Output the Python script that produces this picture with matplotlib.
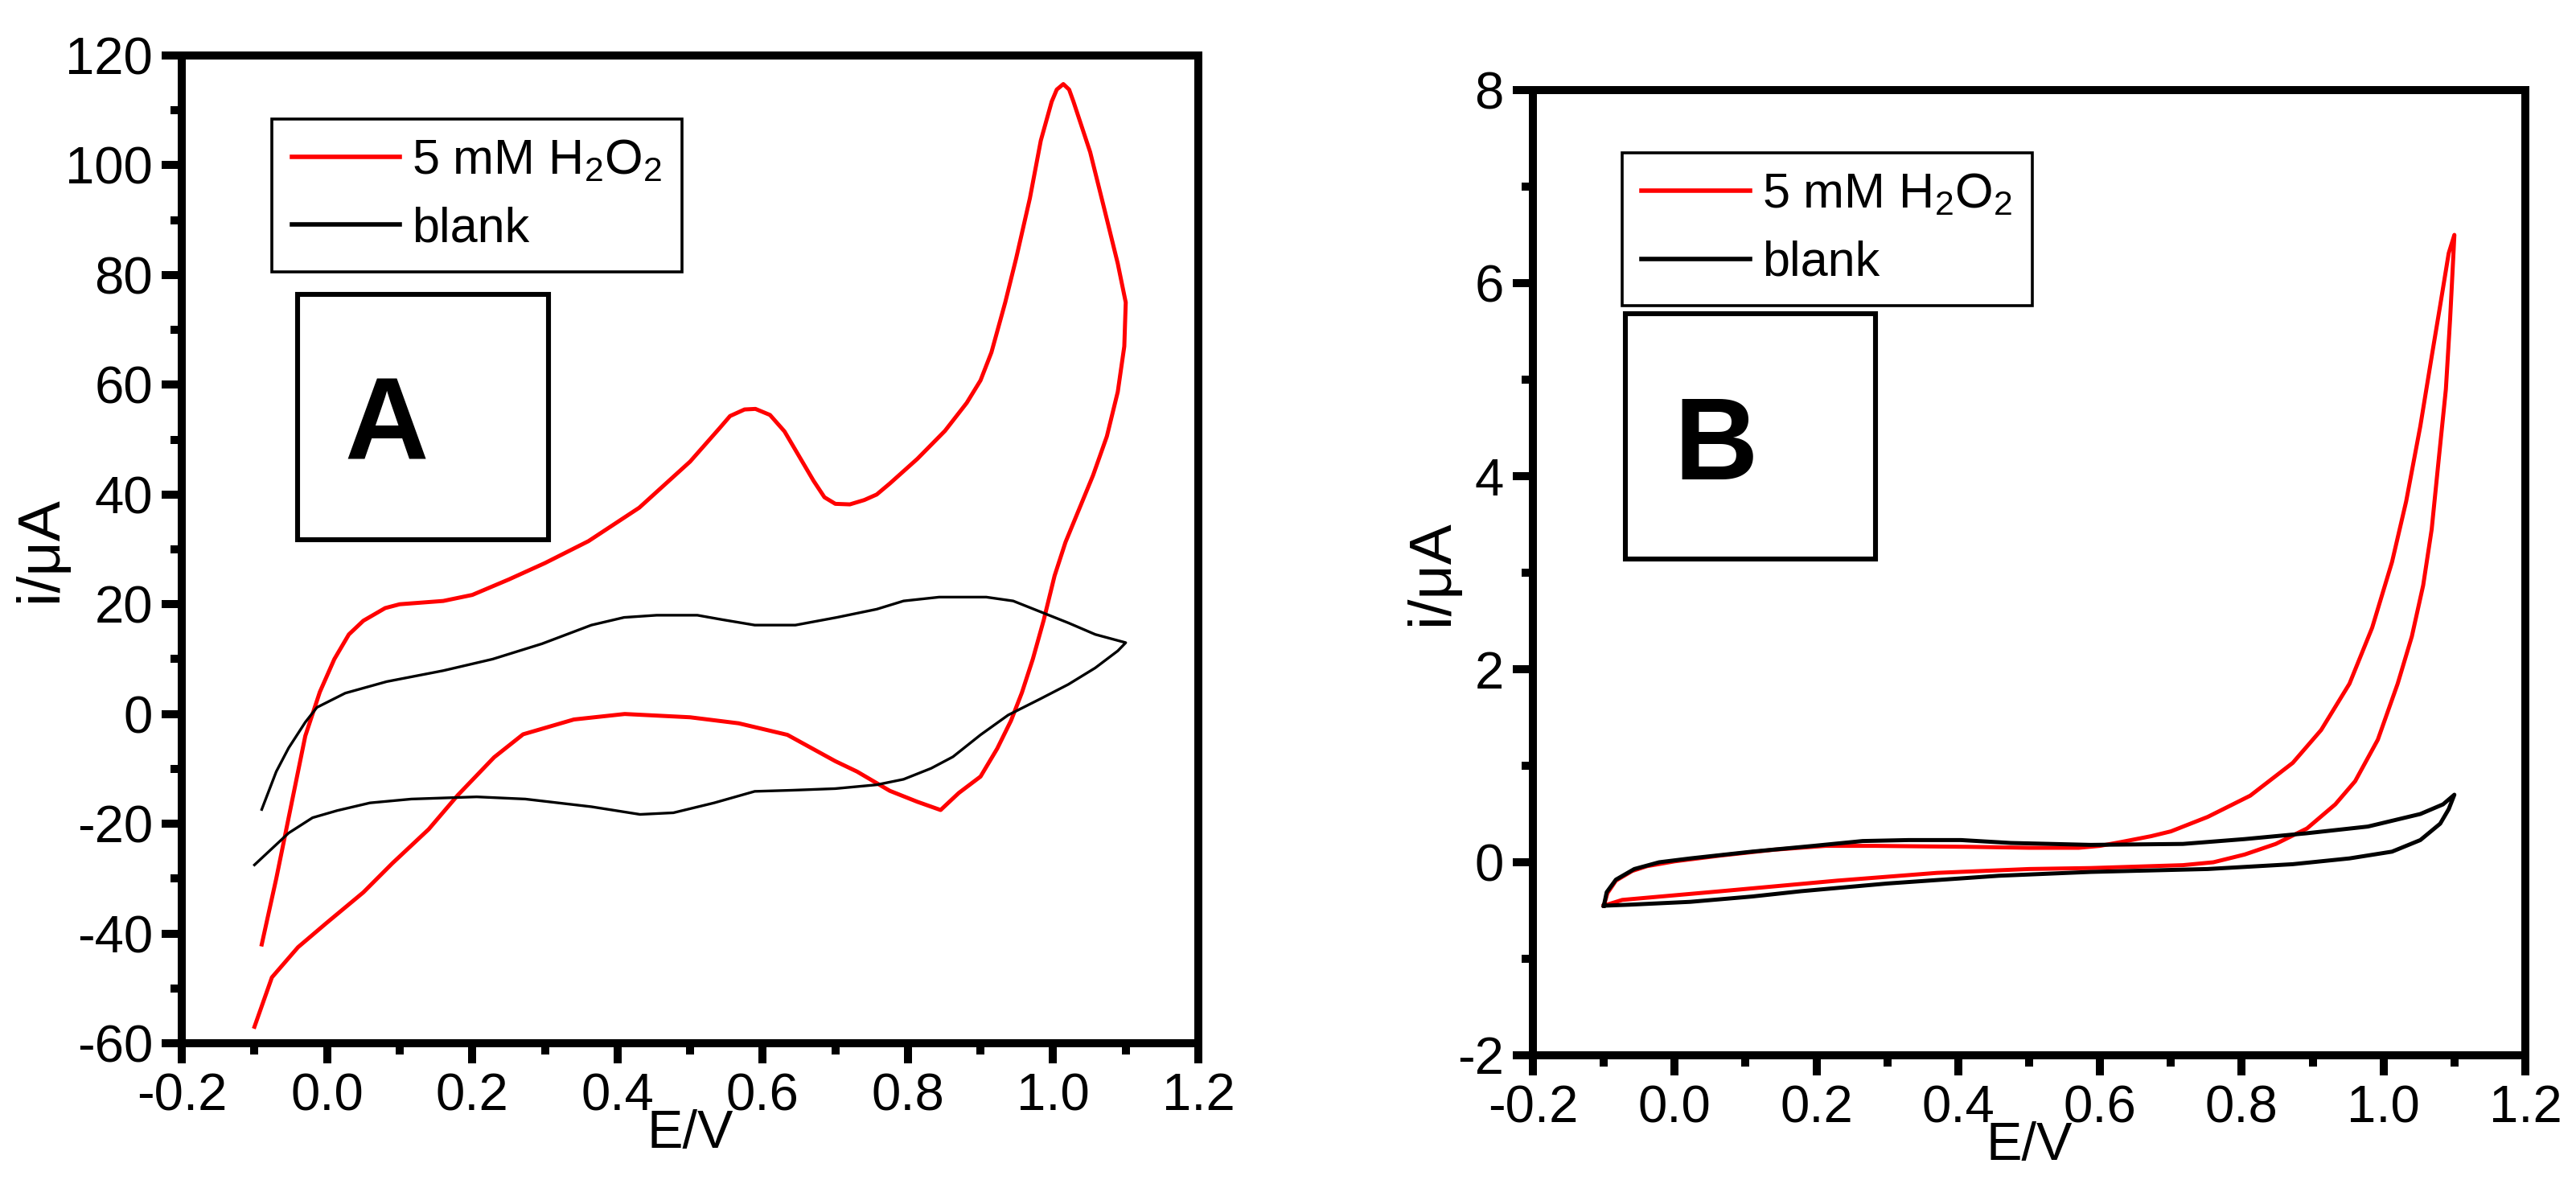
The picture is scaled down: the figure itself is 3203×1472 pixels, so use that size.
import matplotlib
matplotlib.use('Agg')
import matplotlib.pyplot as plt
from matplotlib.patches import Rectangle
from matplotlib.ticker import MultipleLocator, FormatStrFormatter

plt.rcParams['font.family'] = ['Liberation Sans', 'DejaVu Sans']
plt.rcParams['mathtext.fontset'] = 'custom'
plt.rcParams['mathtext.rm'] = 'Liberation Sans'
plt.rcParams['mathtext.it'] = 'Liberation Sans'
plt.rcParams['axes.unicode_minus'] = False

# panel A, 5 mM H2O2 (one full cycle)
a_red_E = [-0.09, -0.07, -0.05, -0.03, -0.01, 0.01, 0.03, 0.05, 0.08, 0.10, 0.13, 0.16,
           0.20, 0.25, 0.30, 0.36, 0.43, 0.50, 0.54, 0.555, 0.575, 0.59, 0.61, 0.63, 0.65,
           0.67, 0.685, 0.70, 0.72, 0.74,
           0.757, 0.775, 0.813, 0.851, 0.881, 0.90, 0.915, 0.934, 0.949, 0.968, 0.983,
           0.998, 1.005, 1.014, 1.022, 1.028, 1.051, 1.07, 1.089, 1.10,
           1.098, 1.089, 1.074, 1.055, 1.036, 1.017, 1.002, 0.987, 0.972, 0.957, 0.942,
           0.923, 0.90, 0.87, 0.845, 0.813, 0.775, 0.73, 0.70, 0.634, 0.567, 0.50, 0.41,
           0.34, 0.27, 0.23, 0.18, 0.14, 0.09, 0.05, 0.0, -0.04, -0.076, -0.1]
a_red_i = [-42, -30, -17, -4, 4, 10, 14.5, 17, 19.3, 20, 20.3, 20.6,
           21.7, 24.5, 27.5, 31.5, 37.6, 46, 52, 54.3, 55.5, 55.6, 54.5, 51.5, 47,
           42.5, 39.5, 38.3, 38.2, 39,
           40, 42, 46.5, 51.6, 56.7, 60.8, 65.9, 75, 83, 94, 104.5,
           111.6, 113.8, 114.8, 113.8, 111.6, 102.4, 92.3, 82.1, 75,
           67, 58.7, 50.6, 43.5, 37.4, 31.3, 25.2, 17.1, 10, 3.9, -1.2,
           -6.3, -11.4, -14.4, -17.5, -16, -14, -10.5, -8.6, -3.8, -1.7, -0.6, 0,
           -1, -3.7, -7.9, -14.8, -21, -27.2, -32.5, -38, -42.5, -48, -57]

# panel A, blank
a_blk_E = [-0.09, -0.07, -0.053, -0.03, -0.014, 0.025, 0.082, 0.16, 0.228, 0.296, 0.364,
           0.409, 0.454, 0.51, 0.544, 0.589, 0.645, 0.702, 0.757, 0.794, 0.843, 0.908,
           0.945, 0.983, 1.021, 1.058, 1.10,
           1.089, 1.058, 1.021, 0.983, 0.938, 0.90, 0.862, 0.832, 0.794, 0.757, 0.70,
           0.64, 0.589, 0.533, 0.477, 0.431, 0.364, 0.273, 0.206, 0.116, 0.059, 0.014,
           -0.02, -0.053, -0.1]
a_blk_i = [-17.4, -10.5, -6.2, -1.5, 1.2, 3.8, 5.9, 7.9, 10, 12.8, 16.2,
           17.6, 18, 18, 17.2, 16.2, 16.2, 17.6, 19.1, 20.6, 21.3, 21.3,
           20.6, 18.6, 16.6, 14.5, 13,
           11.5, 8.4, 5.4, 2.8, -0.2, -3.8, -7.8, -9.9, -11.9, -12.9, -13.6,
           -13.9, -14.1, -16.2, -18, -18.3, -16.9, -15.5, -15.1, -15.5, -16.2, -17.6,
           -18.9, -21.7, -27.5]

# panel B, 5 mM H2O2
b_red_E = [-0.1, -0.095, -0.083, -0.06, -0.039, 0.0, 0.065, 0.14, 0.213, 0.283, 0.413,
           0.50, 0.57, 0.60, 0.63, 0.672, 0.70, 0.752, 0.812, 0.872, 0.912, 0.952, 0.984,
           1.012, 1.032, 1.052, 1.068, 1.08, 1.092, 1.10,
           1.099, 1.094, 1.088, 1.078, 1.068, 1.056, 1.04, 1.02, 0.992, 0.96, 0.932,
           0.892, 0.848, 0.804, 0.76, 0.717, 0.587, 0.50, 0.37, 0.23, 0.065, -0.074, -0.1]
b_red_i = [-0.45, -0.32, -0.19, -0.09, -0.04, 0.01, 0.07, 0.13, 0.17, 0.17, 0.16,
           0.15, 0.15, 0.17, 0.21, 0.27, 0.32, 0.47, 0.69, 1.03, 1.37, 1.85, 2.43,
           3.11, 3.74, 4.52, 5.24, 5.77, 6.31, 6.5,
           6.35, 5.63, 4.9, 4.18, 3.45, 2.87, 2.34, 1.85, 1.27, 0.84, 0.6,
           0.35, 0.19, 0.08, 0.0, -0.03, -0.06, -0.07, -0.11, -0.19, -0.30, -0.39, -0.45]

# panel B, blank
b_blk_E = [-0.1, -0.096, -0.083, -0.057, -0.022, 0.022, 0.109, 0.196, 0.265, 0.33, 0.404,
           0.474, 0.587, 0.717, 0.804, 0.891, 0.978, 1.052, 1.084, 1.10,
           1.092, 1.08, 1.052, 1.012, 0.952, 0.872, 0.752, 0.587, 0.457, 0.3, 0.178,
           0.109, 0.022, -0.065, -0.1]
b_blk_i = [-0.45, -0.31, -0.18, -0.07, 0.0, 0.04, 0.11, 0.17, 0.22, 0.23, 0.23,
           0.2, 0.18, 0.19, 0.24, 0.30, 0.37, 0.5, 0.6, 0.7,
           0.55, 0.4, 0.23, 0.11, 0.04, -0.02, -0.07, -0.1, -0.14, -0.22, -0.30,
           -0.355, -0.41, -0.44, -0.45]

legend_labels = ['5 mM H$_2$O$_2$', 'blank']


def style_axes(ax, ylim, ymajor, yminor, ylabel_x):
    ax.set_xlim(-0.2, 1.2)
    ax.set_ylim(*ylim)
    ax.xaxis.set_major_locator(MultipleLocator(0.2))
    ax.xaxis.set_minor_locator(MultipleLocator(0.1))
    ax.xaxis.set_major_formatter(FormatStrFormatter('%.1f'))
    ax.yaxis.set_major_locator(MultipleLocator(ymajor))
    ax.yaxis.set_minor_locator(MultipleLocator(yminor))
    for s in ax.spines.values():
        s.set_linewidth(3.6)
    ax.tick_params(which='both', direction='out', top=False, right=False, width=3.6)
    ax.tick_params(which='major', length=9)
    ax.tick_params(which='minor', length=5)
    ax.tick_params(axis='both', labelsize=23.5, pad=4)
    ax.set_xlabel('E/V', fontsize=24, labelpad=-5)
    ax.set_ylabel('i/\u03bcA', fontsize=27)
    ax.yaxis.set_label_coords(ylabel_x, 0.5)


def add_box(ax, x0, y0, w, h, letter, tx, ty):
    ax.add_patch(Rectangle((x0, y0), w, h, transform=ax.transAxes, fill=False,
                           edgecolor='black', linewidth=2.2, zorder=5))
    ax.text(tx, ty, letter, transform=ax.transAxes, fontsize=52, fontweight='bold',
            ha='center', va='center', zorder=6)


fig = plt.figure(figsize=(16.015, 7.36), dpi=200)
axA = fig.add_axes([0.0706, 0.1189, 0.3946, 0.8342])
axB = fig.add_axes([0.5951, 0.1087, 0.3852, 0.8152])

axA.plot(a_red_E, a_red_i, color='red', lw=1.8, solid_joinstyle='round', label=legend_labels[0])
axA.plot(a_blk_E, a_blk_i, color='black', lw=1.2, solid_joinstyle='round', label=legend_labels[1])
style_axes(axA, (-60, 120), 20, 10, -0.112)

axB.plot(b_red_E, b_red_i, color='red', lw=1.8, solid_joinstyle='round', label=legend_labels[0])
axB.plot(b_blk_E, b_blk_i, color='black', lw=1.8, solid_joinstyle='round', label=legend_labels[1])
style_axes(axB, (-2, 8), 2, 1, -0.074)

for ax, anchor in ((axA, (0.0886, 0.936)), (axB, (0.0896, 0.935))):
    leg = ax.legend(loc='upper left', bbox_to_anchor=anchor, borderaxespad=0,
                    fontsize=22, frameon=True, fancybox=False, framealpha=1,
                    edgecolor='black', handlelength=2.2, handletextpad=0.25,
                    borderpad=0.4, labelspacing=0.45)
    leg.get_frame().set_linewidth(1.3)
    for line in leg.get_lines():
        line.set_linewidth(2.0)

add_box(axA, 0.114, 0.51, 0.247, 0.248, 'A', 0.201, 0.6225)
add_box(axB, 0.093, 0.514, 0.252, 0.254, 'B', 0.184, 0.628)

fig.savefig('out.png', dpi=200)
